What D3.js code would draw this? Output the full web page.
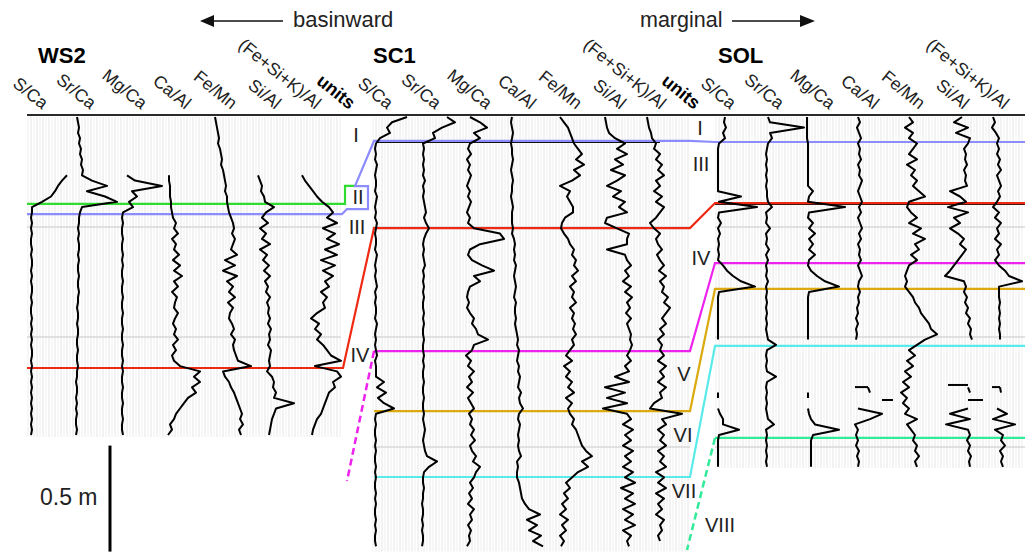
<!DOCTYPE html>
<html><head><meta charset="utf-8">
<script src="https://cdn.jsdelivr.net/npm/d3@7"></script>
<style>body{margin:0;background:#fff;} svg{display:block;font-family:"Liberation Sans",Arial,sans-serif;}</style>
</head><body><svg id="c" width="1025" height="555"></svg>
<script>
// ---------------- DATA ----------------
const proxies = ["S/Ca","Sr/Ca","Mg/Ca","Ca/Al","Fe/Mn","Si/Al","(Fe+Si+K)/Al"];
const coreNames = ["WS2","SC1","SOL"];
const coreLengths = [151, 205, 165.6];      // cm
const sampleStep = 2.5;                     // cm between samples
const N = null;

// WS2 (relative proxy units)
const ws2_SCa = [N,N,N,N,N,N,N,N,N,N,N, 40,35,31,28,24,15,5,
 5,4,5,4,5,4,4,5,4,5, 5,4,5,4,5,5,4,5,4,4, 5,4,5,4,5,4,5,5,4,5, 4,5,4,5,4,5,4,5,4,5, 4,5,4];
const ws2_SrCa = [5,6,7,6,8,7,9,8,10,9,11,10, 20,35,15,33,45,10,8,
 7,7,6,7,6,7,7,6,7,6, 6,7,6,6,7,6,6,5,6,6, 5,6,6,5,5,6,5,5,6,5, 5,4,5,5,4,5,4,5,4,4, 5,4];
const ws2_MgCa = [N,N,N,N,N,N,N,N,N,N,N, 10,18,45,15,20,12,16,6,
 5,6,5,5,6,5,5,6,5,6, 5,5,6,5,5,6,5,5,6,5, 5,6,5,5,6,5,5,6,5,6, 5,5,6,5,5,6,5,5,6,5, 5,6];
const ws2_CaAl = [N,N,N,N,N,N,N,N,N,N,N,
 7,7,8,8,8,9,9,10,11,14, 12,16,10,14,12,17,11,18,12,20, 12,16,10,15,13,12,16,13,11,14,
 12,16,11,14,10,12,18,38,32,38, 30,34,26,22,18,14,12,8,10,6];
const ws2_FeMn = [8,9,10,11,12,11,13,14,15,14, 16,17,18,19,18,20,20,21,22,24,
 26,27,25,28,26,24,30,18,28,16, 30,20,26,22,28,21,26,23,22,25, 27,24,28,26,27,29,31,44,16,18,
 22,24,27,29,31,33,35,33,36,32, 34];
const ws2_SiAl = [N,N,N,N,N,N,N,N,N,N,N,
 6,8,10,9,12,13,22,14,10,16, 8,14,10,18,8,15,11,17,12,18, 13,16,14,18,15,17,16,18,16,19,
 17,18,16,19,18,17,18,15,20,22, 21,24,22,42,24,22,20,19,18,17];
const ws2_FSK = [N,N,N,N,N,N,N,N,N,N,N,
 5,8,12,16,20,25,32,36,30,40, 26,38,30,42,28,40,24,38,26,36, 28,32,24,30,26,28,20,14,22,18,
 24,20,26,30,34,44,18,40,44,36, 38,32,30,28,26,24,20,18,16,15];

// SC1
const sc1_SCa = [35,20,15,18,8,4,
 3,4,3,5,4,3,4,4,3,5, 4,3,4,3,5,4,3,4,4,3, 5,4,3,4,3,4,5,3,4,3, 4,4,3,5,4,3,4,3,4,5, 3,4,4,
 4,12,5,14,6,12,22,4,
 3,4,3,3,4,3,4,3,3,4, 3,4,3,3,4,3,4,3,3,4, 3,4,3,3,4];
const sc1_SrCa = [30,38,25,16,18, 6,7,6,7,6,7,6,8,6,7,6,7,8,9,7,9, 12,
 9,7,6,7,6,7,8,6,7,6, 7,6,7,6,6,7,6,7,6,6, 7,6,6,7,6,7,6,6,7,6, 6,7,6,6,7,6,7,8,7,6, 7,8,
 10,20,12, 7,6,6,7,6,6,5,6,6,5,6,5,6,6,5];
const sc1_MgCa = [8,18,25,12,18,8,6,9,5,8, 6,9,7,5,8,6,9,7,5,8, 6,12,38,42,18,8,6,10,20,32,
 12,18,8,6,5,7,5,8,12,10, 14,16,26,12,10,4,9,6,12,7, 10,5,11,6,9,12,7,10,8,12,
 9,13,8,10,14,11,18,14,12,8, 11,7,10,6,12,8,10,6,9,7, 8,5];
const sc1_CaAl = [5,4,5,6,5,4,5,5,6,5, 4,5,6,5,5,4,5,6,5,5, 5,6,5,7,8,7,8,7,9,8,
 7,8,9,8,7,9,8,8,9,8, 9,10,11,10,12,11,10,12,11,13, 12,11,14,12,13,16,12,11,13,12,
 11,12,11,12,14,10,11,10,10,12, 13,14,15,18,22,33,20,30,22,34, 26,36];
const sc1_FeMn = [8,12,16,18,20,22,26,30,24,32, 22,28,20,8,18,15,18,21,21,13,
 10,9,12,16,18,22,20,24,22,26, 20,24,18,22,20,24,18,22,20,23, 21,24,20,22,18,14,20,12,18,14,
 20,16,22,14,20,16,18,22,20,24, 26,28,30,34,40,30,36,26,20,14, 18,12,16,10,14,8,16,10,14,8, 12,9];
const sc1_SiAl = [8,9,10,12,18,28,20,30,18,26, 14,28,20,10,24,16,28,22,30,10,
 8,20,32,30,30,10,28,30,34,28, 32,26,34,28,35,30,33,29,34,30, 32,34,33,35,33,30,34,28,32,18,
 32,8,28,10,30,6,30,34,26,36, 28,34,26,36,28,34,26,36,28,38, 24,36,28,38,26,36,28,38,26,34, 30,32];
const sc1_FSK = [5,6,7,9,10,14,12,18,14,20, 16,22,14,18,12,20,14,22,18,14,
 8,12,18,14,16,20,15,18,22,17, 24,18,22,20,26,22,28,24,20,24, 18,22,16,20,18,22,16,24,18,22,
 16,24,18,20,12,8,40,20,24,16, 22,18,24,16,22,18,24,14,22,16, 24,14,22,16,20,14,22,18,20,16, 18,N];

// SOL
const sol_SCa = [10,9,11,8,10,4,3,3,3,3, 3,3,3,3,3,26,4,42,4,3, 6,3,5,3,4,3,4,3,8,12,
 18,26,40,4,3,3,3,3,3,3, 3,3,3,N,N,N,N,N,N,N, N,N,3,3,N,3,5,8,8,24, 4,3,3,3,3,3,3];
const sol_SrCa = [8,10,44,10,12,8,7,6,7,6, 7,6,7,6,7,7,8,12,6,7, 6,10,6,7,6,9,6,8,6,7,
 6,8,6,7,6,7,6,7,6,7, 6,7,8,16,7,6,7,6,7,16, 7,6,7,6,7,6,7,8,14,6, 7,6,7,6,7,6,7];
const sol_MgCa = [2,2,2,2,2,3,3,3,3,3, 3,3,3,3,8,4,3,40,4,3, 8,4,10,4,8,4,10,4,3,6,
 12,20,34,4,3,3,3,3,3,3, 3,3,3,N,N,N,N,N,N,N, N,N,3,3,N,3,4,6,10,34, 8,6,6,6,6,6,6];
const sol_CaAl = [8,10,7,9,11,8,10,9,11,8, 10,9,12,10,8,10,12,9,11,8, 10,12,9,11,8,10,9,11,8,10,
 12,9,8,10,8,9,7,8,6,8, 6,7,6,N,N,N,N,N,N,N, N,18,20,N,N,8,32,20,5,8, 6,8,6,9,7,9,8];
const sol_FeMn = [14,18,10,18,14,22,18,14,22,12, 20,16,22,18,24,30,14,12,16,22,
 14,26,18,30,20,24,16,22,14,12, 10,12,10,14,18,20,24,26,30,34, 36,42,30,22,14,20,12,18,10,16,
 8,14,6,12,8,14,10,22,12,16, 20,18,22,20,24,20,22];
const sol_SiAl = [22,14,28,16,30,28,24,26,25,27, 24,26,25,27,10,20,26,8,28,14,
 20,10,18,24,20,26,22,18,14,10, 5,24,26,24,27,25,28,26,30,28, 31,30,32,N,N,N,N,N,N,N,
 N,28,30,N,N,28,10,30,6,28, 30,27,30,28,31,29,30];
const sol_FSK = [8,10,7,11,14,12,14,12,15,13, 16,12,14,16,13,15,12,8,14,10,
 16,12,14,10,16,12,14,10,14,20, 24,37,14,14,14,15,14,15,14,15, 14,15,15,N,N,N,N,N,N,N,
 N,15,16,N,N,12,22,8,30,10, 18,16,20,15,18,16,18];

// detached horizontal fragments in SOL: track index, depth (cm), from value, to value
const solFragTrack = [3, 3, 5, 5, 6];
const solFragDepth = [127.4, 133.5, 126.4, 133.5, 127.4];
const solFragFrom  = [5, 32, 8, 28, 7];
const solFragTo    = [18, 43, 28, 43, 15];

// unit boundary depths (cm) per core
const horizonIds = ["green","purple","red","magenta","gold","cyan","mint"];
const ws2Horizons = [41.0, 45.8, 118.4, N, N, N, N];
const sc1Horizons = [N, 11.3, 52.4, 110.4, 138.7, 169.8, N];
const solHorizons = [N, 11.8, 40.6, 68.9, 81.1, 108.0, 151.4];
// core section breaks (cm)
const sectionBreaks = [51.9, 103.8, 155.7];

// unit labels and depths (cm)
const unitsLeft = ["I","II","III","IV"];
const unitsLeftDepth = [8.5, 37.7, 51.9, 112.3];
const unitsRight = ["I","III","IV","V","VI","VII","VIII"];
const unitsRightDepth = [5.2, 22.2, 66.5, 121.2, 150.0, 176.4, 192.5];
const scaleBarLength = 50; // cm

// ---------------- DRAW ----------------
const svg = d3.select("#c");
const y = d3.scaleLinear().domain([0, 205]).range([117, 117 + 205 * 2.12]);
const colors = {green:"#2fdc2f", purple:"#8c8cff", red:"#ee2a12", magenta:"#ee22ee",
                gold:"#dcaa10", cyan:"#5aeaea", mint:"#33ea99"};

const cores = [
  {x0:27,  x1:343, hatchEnd:341, data:[ws2_SCa,ws2_SrCa,ws2_MgCa,ws2_CaAl,ws2_FeMn,ws2_SiAl,ws2_FSK], hz:ws2Horizons, units:true},
  {x0:372, x1:690, hatchEnd:690, data:[sc1_SCa,sc1_SrCa,sc1_MgCa,sc1_CaAl,sc1_FeMn,sc1_SiAl,sc1_FSK], hz:sc1Horizons, units:true},
  {x0:715, x1:1025, hatchEnd:1025, data:[sol_SCa,sol_SrCa,sol_MgCa,sol_CaAl,sol_FeMn,sol_SiAl,sol_FSK], hz:solHorizons, units:false}
];
const trackW = 45;
const hdrOff = [15, 63, 114, 158, 204, 248, 288, 322];

// hatch backgrounds
cores.forEach((c, ci) => {
  const g = svg.append("g");
  const yb = y(coreLengths[ci]);
  const xs = d3.range(c.x0 + 1, c.hatchEnd, 3);
  g.selectAll("line").data(xs).join("line")
    .attr("x1", d => d).attr("x2", d => d).attr("y1", 117).attr("y2", yb)
    .attr("stroke", (d, i) => i % 2 ? "#e6e6e6" : "#efefef").attr("stroke-width", 1);
  g.selectAll("line.sb").data(sectionBreaks.filter(d => d < coreLengths[ci])).join("line").attr("class","sb")
    .attr("x1", c.x0).attr("x2", c.hatchEnd).attr("y1", d => y(d)).attr("y2", d => y(d))
    .attr("stroke", "#d8d8d8").attr("stroke-width", 1.5);
});

// top border
svg.append("line").attr("x1", 27).attr("x2", 1025).attr("y1", 115).attr("y2", 115)
  .attr("stroke", "#2a2a2a").attr("stroke-width", 2);

// horizons
const hg = svg.append("g").attr("fill", "none").attr("stroke-width", 2.2);
hg.append("line").attr("x1", 376).attr("x2", 660).attr("y1", y(sc1Horizons[1]) + 1).attr("y2", y(sc1Horizons[1]) + 1)
  .attr("stroke", "#111").attr("stroke-width", 2);
hg.append("line").attr("x1", 715).attr("x2", 1025).attr("y1", y(solHorizons[2]) + 1).attr("y2", y(solHorizons[2]) + 1)
  .attr("stroke", "#111").attr("stroke-width", 2);

horizonIds.forEach((id, k) => {
  const col = colors[id];
  const d0 = ws2Horizons[k], d1 = sc1Horizons[k], d2 = solHorizons[k];
  const pts = [];
  if (d0 != null && id !== "green" && id !== "purple") { pts.push([27, y(d0)], [343, y(d0)]); }
  if (id === "purple") {
    const yw = y(d0);
    pts.push([27, yw], [342, yw], [347, yw - 5], [368, yw - 5], [368, yw - 28], [355, yw - 28]);
  }
  if (d1 != null) { pts.push([374, y(d1)], [690, y(d1)]); }
  if (d2 != null) { pts.push([715, y(d2)], [1025, y(d2)]); }
  if (id === "green") {
    const yw = y(d0);
    pts.push([27, yw], [345, yw], [345, yw - 18], [355, yw - 18]);
  }
  hg.append("path").attr("d", d3.line()(pts)).attr("stroke", col);
});
hg.append("path").attr("d", d3.line()([[374, y(sc1Horizons[3])], [347, y(sc1Horizons[3]) + 130]]))
  .attr("stroke", colors.magenta).attr("stroke-dasharray", "7,4").attr("stroke-width", 2.5);
hg.append("path").attr("d", d3.line()([[715, y(solHorizons[6])], [687, y(solHorizons[6]) + 112]]))
  .attr("stroke", colors.mint).attr("stroke-dasharray", "7,4").attr("stroke-width", 2.5);

// traces
cores.forEach((c, ci) => {
  const g = svg.append("g").attr("fill", "none").attr("stroke", "#000").attr("stroke-width", 2)
    .attr("stroke-linejoin", "round");
  c.data.forEach((arr, k) => {
    const x = d3.scaleLinear().domain([0, trackW]).range([c.x0 + k * trackW, c.x0 + (k + 1) * trackW]);
    const line = d3.line().defined(v => v != null).x(v => x(v)).y((v, i) => y(i * sampleStep));
    g.append("path").attr("d", line(arr));
  });
  if (ci === 2) {
    solFragTrack.forEach((t, j) => {
      const x = d3.scaleLinear().domain([0, trackW]).range([c.x0 + t * trackW, c.x0 + (t + 1) * trackW]);
      g.append("line").attr("x1", x(solFragFrom[j])).attr("x2", x(solFragTo[j]))
        .attr("y1", y(solFragDepth[j])).attr("y2", y(solFragDepth[j]));
    });
  }
});

// headers
cores.forEach((c, ci) => {
  const g = svg.append("g").attr("fill", "#222");
  proxies.forEach((p, k) => {
    const ax = c.x0 + hdrOff[k], ay = 110;
    g.append("text").attr("transform", `translate(${ax},${ay}) rotate(39)`)
      .attr("text-anchor", "end").attr("font-size", 17.5).text(p);
  });
  if (c.units) {
    const ax = c.x0 + hdrOff[7], ay = 110;
    g.append("text").attr("transform", `translate(${ax},${ay}) rotate(39)`)
      .attr("text-anchor", "end").attr("font-size", 18).attr("font-weight", "bold").attr("fill", "#000").text("units");
  }
  g.append("text").attr("x", [38, 373, 718][ci]).attr("y", 63).attr("font-size", 22)
    .attr("font-weight", "bold").attr("fill", "#000").text(coreNames[ci]);
});

// unit labels
const lg = svg.append("g").attr("font-size", 20).attr("fill", "#222").attr("text-anchor", "middle");
const leftX = [356, 358, 357, 360];
unitsLeft.forEach((u, i) => lg.append("text").attr("x", leftX[i]).attr("y", y(unitsLeftDepth[i]) + 7).text(u));
const rightX = [700, 701, 701, 684, 683, 684, 720];
unitsRight.forEach((u, i) => lg.append("text").attr("x", rightX[i]).attr("y", y(unitsRightDepth[i]) + 7).text(u));

// arrows
const ag = svg.append("g");
ag.append("line").attr("x1", 283).attr("x2", 210).attr("y1", 21).attr("y2", 21).attr("stroke", "#111").attr("stroke-width", 1.5);
ag.append("path").attr("d", "M200,21 L214,15 L214,27 Z").attr("fill", "#111");
ag.append("text").attr("x", 293).attr("y", 27).attr("font-size", 22).attr("fill", "#222").text("basinward");
ag.append("text").attr("x", 640).attr("y", 27).attr("font-size", 21.5).attr("fill", "#222").text("marginal");
ag.append("line").attr("x1", 732).attr("x2", 805).attr("y1", 21).attr("y2", 21).attr("stroke", "#111").attr("stroke-width", 1.5);
ag.append("path").attr("d", "M815,21 L800,15 L800,27 Z").attr("fill", "#111");

// scale bar
svg.append("line").attr("x1", 110).attr("x2", 110).attr("y1", y(155)).attr("y2", y(155 + scaleBarLength))
  .attr("stroke", "#000").attr("stroke-width", 3);
svg.append("text").attr("x", 40).attr("y", 505).attr("font-size", 23).attr("fill", "#222").text("0.5 m");
</script></body></html>
